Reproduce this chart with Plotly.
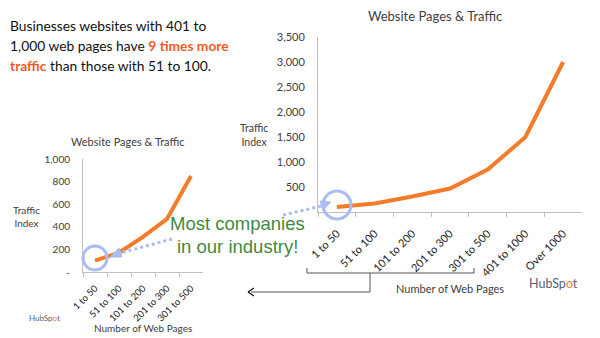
import plotly.graph_objects as go

categories = ["1 to 50", "51 to 100", "101 to 200", "201 to 300", "301 to 500", "401 to 1000", "Over 1000"]
traffic = [100, 170, 310, 470, 850, 1500, 3000]
small_categories = categories[:5]
small_traffic = traffic[:5]
big_ticks = [0, 500, 1000, 1500, 2000, 2500, 3000, 3500]
big_ticktext = ["", "500", "1,000", "1,500", "2,000", "2,500", "3,000", "3,500"]
small_ticks = [0, 200, 400, 600, 800, 1000]
small_ticktext = ["-", "200", "400", "600", "800", "1,000"]

W, H = 600, 338
def px(x): return x / W
def py(y): return 1 - y / H

ORANGE = "#F47B2A"
AXIS = "#BFBFBF"
TXT = "#404040"
BLUE = "#A9BDF3"
FONT = "Lato"

fig = go.Figure()
fig.add_trace(go.Scatter(x=categories, y=traffic, mode="lines",
                         line=dict(color=ORANGE, width=4), xaxis="x", yaxis="y",
                         hoverinfo="skip"))
fig.add_trace(go.Scatter(x=small_categories, y=small_traffic, mode="lines",
                         line=dict(color=ORANGE, width=4), xaxis="x2", yaxis="y2",
                         hoverinfo="skip"))

common_x = dict(type="category", showgrid=False, showline=True, linecolor=AXIS,
                ticks="outside", tickson="boundaries", ticklen=4, tickcolor=AXIS,
                tickangle=-45, zeroline=False, automargin=False)
common_y = dict(showgrid=False, showline=True, linecolor=AXIS, ticks="",
                zeroline=False, ticklabelstandoff=10, automargin=False)

fig.update_layout(
    width=W, height=H, margin=dict(l=0, r=0, t=0, b=0, autoexpand=False),
    paper_bgcolor="white", plot_bgcolor="white", showlegend=False,
    xaxis=dict(domain=[px(318), px(582)], anchor="y", range=[-0.5, len(categories) - 0.5],
               tickfont_size=11, ticklabelstandoff=10, **common_x),
    yaxis=dict(domain=[py(212), py(37)], anchor="x", range=[0, 3500],
               tickvals=big_ticks, ticktext=big_ticktext, tickfont_size=11, **common_y),
    xaxis2=dict(domain=[px(83), px(203)], anchor="y2", range=[-0.5, len(small_categories) - 0.5],
                tickfont_size=9.5, ticklabelstandoff=6, **common_x),
    yaxis2=dict(domain=[py(272), py(159)], anchor="x2", range=[0, 1000],
                tickvals=small_ticks, ticktext=small_ticktext, tickfont_size=10, **common_y),
)
fig.update_xaxes(tickfont_family=FONT, tickfont_color="#222")
fig.update_yaxes(tickfont_family=FONT, tickfont_color=TXT)

ann = []
def text(x, y, s, size, color=TXT, family=FONT, xanchor="center", align="center"):
    ann.append(dict(x=px(x), y=py(y), xref="paper", yref="paper", text=s, showarrow=False,
                    font=dict(size=size, color=color, family=family),
                    xanchor=xanchor, yanchor="middle", align=align, borderpad=0))

RED = "#F05A28"
text(9, 25, "Businesses websites with 401 to", 13.8, "#111", xanchor="left", align="left")
text(9, 45, "1,000 web pages have <b><span style='color:%s'>9 times more</span></b>" % RED, 13.8, "#111", xanchor="left", align="left")
text(9, 65, "<b><span style='color:%s'>traffic</span></b> than those with 51 to 100." % RED, 13.8, "#111", xanchor="left", align="left")

text(435, 16, "Website Pages & Traffic", 13)
text(254, 135, "Traffic<br>Index", 10.5)
text(450, 288, "Number of Web Pages", 11)
text(128, 141, "Website Pages & Traffic", 11)
text(26, 216, "Traffic<br>Index", 10)
text(143, 328, "Number of Web Pages", 10)

GREEN = "#3F8A3F"
text(237, 223, "Most companies", 18.5, GREEN, family="Liberation Sans")
text(237, 247, "in our industry!", 18.5, GREEN, family="Liberation Sans")

text(553, 283, "HubSp<span style='color:%s'>o</span>t" % ORANGE, 12.5, "#5A6270")
text(44, 318, "HubSp<span style='color:%s'>o</span>t" % ORANGE, 8, "#5A6270")

shapes = []
def line(x0, y0, x1, y1, color, width, dash="solid"):
    shapes.append(dict(type="line", xref="paper", yref="paper", x0=px(x0), y0=py(y0),
                       x1=px(x1), y1=py(y1), line=dict(color=color, width=width, dash=dash)))
def circle(cx, cy, r, color, width):
    shapes.append(dict(type="circle", xref="paper", yref="paper", x0=px(cx - r), y0=py(cy + r),
                       x1=px(cx + r), y1=py(cy - r), line=dict(color=color, width=width)))
def tri(pts, color):
    p = "M " + " L ".join("%f,%f" % (px(a), py(b)) for a, b in pts) + " Z"
    shapes.append(dict(type="path", xref="paper", yref="paper", path=p,
                       fillcolor=color, line=dict(color=color, width=1)))

# dotted arrows
line(283, 215, 322, 206, BLUE, 3, "dot")
tri([(331, 202), (320, 201), (323, 210)], BLUE)
line(172, 239, 120, 253, BLUE, 3, "dot")
tri([(110, 257), (119, 248), (122, 257)], BLUE)
# circles
circle(337, 205, 14, BLUE, 3)
circle(95, 258, 12, BLUE, 3)

# bracket & arrow
BR = "#555555"
line(307, 268, 307, 273, BR, 1)
line(307, 273, 474, 273, BR, 1)
line(474, 268, 474, 273, BR, 1)
line(370, 273, 370, 292, BR, 1)
line(370, 292, 251, 292, BR, 1)
line(248, 292, 254, 288, "#111", 1.2)
line(248, 292, 254, 296, "#111", 1.2)

fig.update_layout(annotations=ann, shapes=shapes)
fig.write_html("out.html")
